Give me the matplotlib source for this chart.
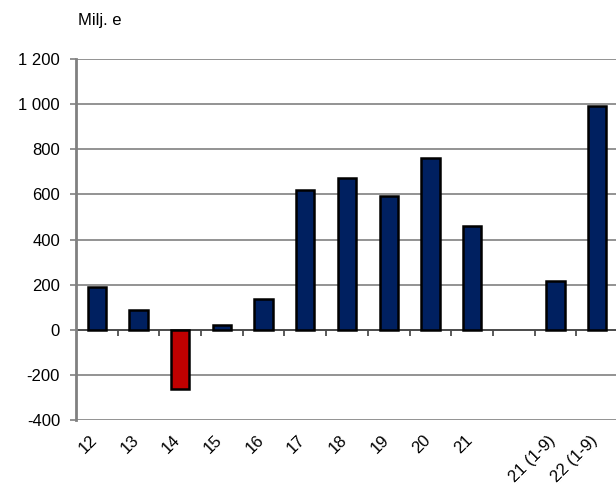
import matplotlib
matplotlib.use("Agg")
import matplotlib.pyplot as plt
import matplotlib.transforms as mtransforms
import numpy as np

plt.rcParams['font.family'] = ['Liberation Sans', 'DejaVu Sans']

categories = ["12", "13", "14", "15", "16", "17", "18", "19", "20", "21", "", "21 (1-9)", "22 (1-9)"]
values = [190, 86, -264, 21, 138, 619, 672, 592, 761, 458, np.nan, 216, 991]
bar_colors = ["#002060", "#002060", "#C00000", "#002060", "#002060", "#002060", "#002060",
              "#002060", "#002060", "#002060", "#002060", "#002060", "#002060"]
y_ticks = [-400, -200, 0, 200, 400, 600, 800, 1000, 1200]
y_tick_labels = ["-400", "-200", "0", "200", "400", "600", "800", "1 000", "1 200"]
y_unit = "Milj. e"

fig = plt.figure(figsize=(6.16, 4.84), dpi=100)
ax = fig.add_axes([76/616, 1 - 420/484, 542/616, 361/484])

x = np.arange(len(categories))
ax.bar(x, values, width=0.44, color=bar_colors, edgecolor="black", linewidth=1.8, zorder=3)

ax.set_xlim(-0.5, len(categories) - 0.5)
ax.set_ylim(-400, 1200)
ax.set_yticks(y_ticks)
ax.set_yticklabels(y_tick_labels, fontsize=12)
ax.yaxis.grid(True, color="#808080", linewidth=1.2, zorder=0)
ax.tick_params(axis="y", direction="out", length=4, width=1.2, color="#808080", pad=7.5)

# category labels at the bottom
ax.set_xticks(x)
ax.set_xticklabels(categories, rotation=45, ha="right", fontsize=12)
ax.tick_params(axis="x", length=0, pad=9)
offset = mtransforms.ScaledTranslation(3/100, 0, fig.dpi_scale_trans)
for lbl in ax.get_xticklabels():
    lbl.set_transform(lbl.get_transform() + offset)

for s in ["top", "right", "bottom"]:
    ax.spines[s].set_visible(False)
ax.spines["left"].set_color("#808080")
ax.spines["left"].set_linewidth(2)

# zero line with boundary tick marks
ax.axhline(0, color="#404040", linewidth=1.2, zorder=2)
sec = ax.secondary_xaxis(400/1600)
sec.set_xticks(np.arange(len(categories) - 1) + 0.5)
sec.set_xticklabels([])
sec.spines["bottom"].set_visible(False)
sec.tick_params(axis="x", direction="out", length=4, width=1.2, color="#404040")

fig.text(78/616, 1 - 20/484, y_unit, fontsize=12, va="center", ha="left")

fig.savefig("out.png", dpi=100)
